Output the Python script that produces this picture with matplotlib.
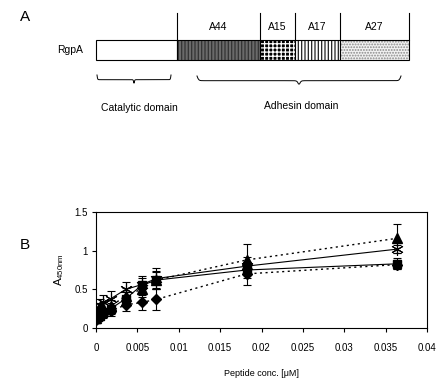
import numpy as np
import matplotlib
matplotlib.use("Agg")
import matplotlib.pyplot as plt
from matplotlib.patches import Rectangle

plt.rcParams['font.family'] = ['Liberation Sans', 'DejaVu Sans']
plt.rcParams['hatch.linewidth'] = 0.9

# ---- panel A data: domain segments (relative lengths) ----
seg_names = ["", "A44", "A15", "A17", "A27"]
seg_lengths = [81, 83, 35, 45, 69]
seg_face = ["white", "#6a6a6a", "black", "white", "#f2f2f2"]
seg_hatch = [None, "|||||", "++++", "|||||", "......"]
seg_hcolor = ["black", "#333333", "white", "#222222", "#888888"]

# ---- panel B data ----
conc = [0, 0.00023, 0.00045, 0.0009, 0.0018, 0.0036, 0.0055, 0.0073, 0.0182, 0.0364]
tri = [0.13, 0.17, 0.21, 0.26, 0.28, 0.42, 0.50, 0.62, 0.88, 1.16]
tri_err = [0.05, 0.05, 0.06, 0.07, 0.08, 0.1, 0.1, 0.12, 0.2, 0.19]
sq = [0.12, 0.14, 0.16, 0.20, 0.25, 0.38, 0.55, 0.62, 0.75, 0.83]
sq_err = [0.04, 0.05, 0.05, 0.06, 0.07, 0.09, 0.1, 0.1, 0.1, 0.07]
dia = [0.10, 0.13, 0.15, 0.18, 0.22, 0.30, 0.33, 0.37, 0.70, 0.82]
dia_err = [0.04, 0.04, 0.05, 0.05, 0.06, 0.08, 0.1, 0.14, 0.15, 0.06]
star = [0.20, 0.25, 0.30, 0.34, 0.38, 0.50, 0.56, 0.64, 0.80, 1.02]
star_err = [0.06, 0.07, 0.08, 0.09, 0.1, 0.09, 0.11, 0.13, 0.12, 0.05]

fig = plt.figure(figsize=(4.37, 3.84), dpi=100)

# ---------------- panel A (pixel coordinates) ----------------
axA = fig.add_axes([0, 0, 1, 1])
axA.set_xlim(0, 437)
axA.set_ylim(384, 0)
axA.axis('off')
axA.patch.set_alpha(0)

bar_x0, bar_top, bar_h = 96, 40, 20
edges = bar_x0 + np.concatenate([[0], np.cumsum(seg_lengths)])
for i, name in enumerate(seg_names):
    x0, x1 = edges[i], edges[i + 1]
    r = Rectangle((x0, bar_top), x1 - x0, bar_h, facecolor=seg_face[i],
                  edgecolor=seg_hcolor[i], hatch=seg_hatch[i], lw=0)
    axA.add_patch(r)
    axA.add_patch(Rectangle((x0, bar_top), x1 - x0, bar_h, fill=False,
                            edgecolor='black', lw=0.8))
    if name:
        axA.text((x0 + x1) / 2, 27, name, ha='center', va='center', fontsize=7.5)
for x in edges[1:]:
    axA.plot([x, x], [13, bar_top], color='black', lw=0.8)

axA.text(20, 17, "A", fontsize=11, va='center')
axA.text(83, 50, "RgpA", fontsize=7.5, ha='right', va='center')


def brace(ax, xa, xb, y, h):
    # horizontal curly brace, tip pointing down
    n = 200
    xs = np.linspace(xa, xb, n)
    xm = (xa + xb) / 2
    beta = 60.0 / (xb - xa) * 4
    half = xs <= xm
    ys = np.where(half,
                  1 / (1 + np.exp(-beta * (xs - xa))) + 1 / (1 + np.exp(-beta * (xs - xm))),
                  1 / (1 + np.exp(-beta * (xb - xs))) + 1 / (1 + np.exp(-beta * (xm - xs))))
    ys = ys - ys.min()
    ys = y + h * ys / ys.max()
    ax.plot(xs, ys, color='black', lw=0.7)


brace(axA, 97, 171, 75, 8)
brace(axA, 197, 401, 76, 8)
axA.text(139, 108, "Catalytic domain", fontsize=7.5, ha='center', va='center')
axA.text(301, 106, "Adhesin domain", fontsize=7.5, ha='center', va='center')
axA.text(20, 245, "B", fontsize=11, va='center')

# ---------------- panel B ----------------
ax = fig.add_axes([96 / 437, 56 / 384, 331 / 437, 116 / 384])
ekw = dict(ecolor='black', elinewidth=0.8, capsize=3, capthick=0.8)
ax.errorbar(conc, tri, yerr=tri_err, fmt='^', color='black', ms=6.5, **ekw)
ax.errorbar(conc, sq, yerr=sq_err, fmt='s', color='black', ms=6, **ekw)
ax.errorbar(conc, dia, yerr=dia_err, fmt='D', color='black', ms=5, **ekw)
ax.errorbar(conc, star, yerr=star_err, fmt='none', **ekw)
ax.plot(conc, star, color='black', lw=0.8, marker=(6, 2, 0), ms=9, mew=0.8)
ax.plot(conc, sq, color='black', lw=0.8)
ax.plot(conc, tri, color='black', lw=1.0, ls=(0, (1.5, 2.5)))
ax.plot(conc, dia, color='black', lw=1.0, ls=(0, (1.5, 2.5)))

ax.set_xlim(0, 0.04)
ax.set_ylim(0, 1.5)
ax.set_xticks(np.arange(0, 0.0401, 0.005))
ax.set_xticklabels(["0", "0.005", "0.01", "0.015", "0.02", "0.025", "0.03", "0.035", "0.04"])
ax.set_yticks([0, 0.5, 1, 1.5])
ax.set_yticklabels(["0", "0.5", "1", "1.5"])
ax.tick_params(labelsize=7, length=3, width=0.8, pad=8)
ax.tick_params(axis='y', pad=3)
for s in ax.spines.values():
    s.set_linewidth(0.8)
ax.set_xlabel("Peptide conc. [\u03bcM]", fontsize=6.5, labelpad=11)
ax.set_ylabel(r"A$_{\mathregular{450nm}}$", fontsize=8, labelpad=6)

fig.savefig("out.png", dpi=100)
